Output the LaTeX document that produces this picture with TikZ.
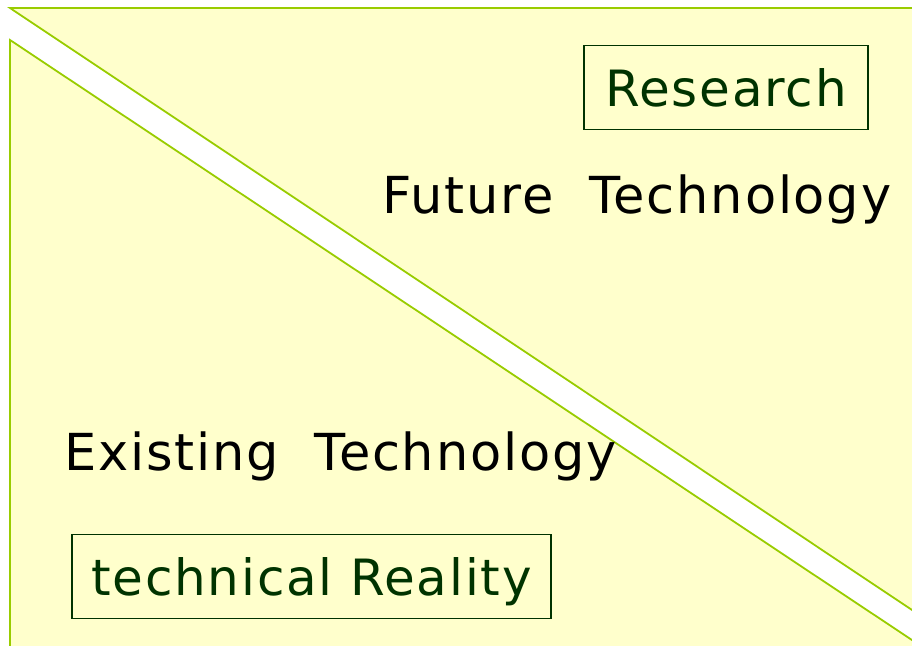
\documentclass[tikz,border=0pt]{standalone}
\usepackage{fontspec}
\setmainfont[LetterSpace=3.5]{DejaVu Sans}
\definecolor{paper}{HTML}{FFFFCC}
\definecolor{edge}{HTML}{99CC00}
\definecolor{dgreen}{HTML}{003300}
\begin{document}
\begin{tikzpicture}[x=1pt,y=-1pt,
  region/.style={fill=paper,draw=edge,line width=1.8pt},
  tagbox/.style={draw=dgreen,line width=1.6pt,text=dgreen,font=\fontsize{50}{60}\selectfont,
    text height=37pt,text depth=0pt,inner sep=0pt,minimum height=84pt},
  bigtext/.style={text=black,font=\fontsize{51}{60}\selectfont,anchor=base west,inner sep=0pt}]
\useasboundingbox (0,0) rectangle (912,645);
\fill[white] (0,0) rectangle (912,645);
\begin{scope}
\clip (0,0) rectangle (912,645);
\draw[region] (10,8) -- (930,8) -- (930,622) -- cycle;
\draw[region] (10,40) -- (930,652) -- (930,680) -- (10,680) -- cycle;
\end{scope}
\node[tagbox,minimum width=284pt] (research) at (726,87.5) {Research};
\node[tagbox,minimum width=479pt] (reality) at (311.5,576.5) {technical Reality};
\node[bigtext] (future) at (382,213) {Future\ \ Technology};
\node[bigtext] (existing) at (64,470) {Existing\ \ Technology};
\end{tikzpicture}
\end{document}
